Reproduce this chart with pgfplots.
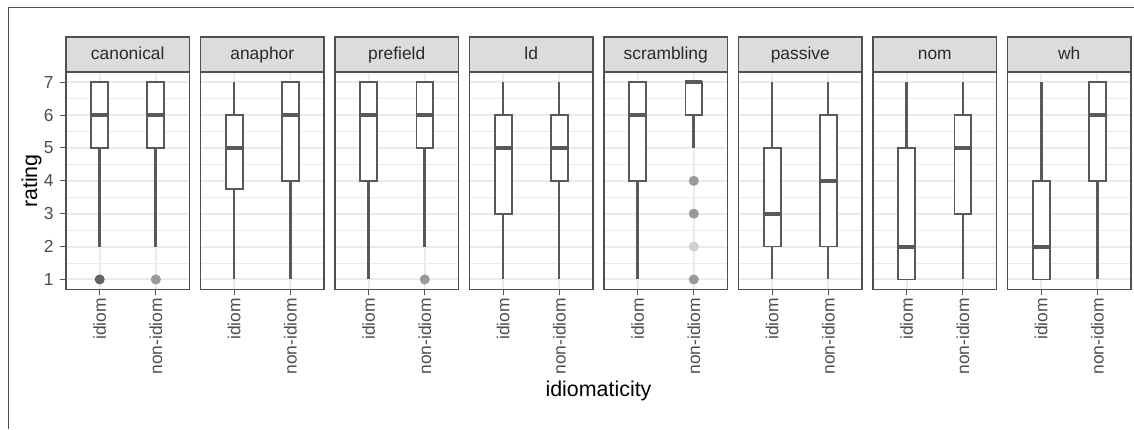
\documentclass[border=0pt]{standalone}
\usepackage{pgfplots}
\pgfplotsset{compat=1.18}
\usepackage{fontspec}
\setmainfont{Liberation Sans}
\definecolor{bl}{HTML}{595959}
\definecolor{gridc}{HTML}{EBEBEB}
\definecolor{grey20}{HTML}{505050}
\definecolor{stripc}{HTML}{DCDCDE}
\definecolor{tickc}{HTML}{4D4D4D}
\definecolor{stript}{HTML}{2A2A2A}
\definecolor{outD}{HTML}{636363}
\definecolor{outM}{HTML}{9A9A9A}
\definecolor{outL}{HTML}{D0D0D0}
\newcommand{\tfont}{\fontsize{8.7}{10}\selectfont}
\newcommand{\bx}[9]{%
 \addplot[bl, line width=#9] coordinates {(#1,#4) (#1,#5)};
 \addplot[bl, line width=#9] coordinates {(#1,#7) (#1,#8)};
 \addplot[bl, fill=white, line width=0.9pt] coordinates {(#2,#5) (#3,#5) (#3,#7) (#2,#7)} -- cycle;
 \addplot[bl, line width=2pt] coordinates {(#2,#6) (#3,#6)};
}
\newcommand{\bxI}[6]{\bx{1}{0.85}{1.15}{#1}{#2}{#3}{#4}{#5}{#6}}
\newcommand{\bxN}[6]{\bx{2}{1.85}{2.15}{#1}{#2}{#3}{#4}{#5}{#6}}
\newcommand{\outl}[2]{\addplot[only marks, mark=*, mark size=2.3pt, color=#1] coordinates {#2};}
\pgfplotsset{panel/.style={
 anchor=south west, width=61.75pt, height=108.5pt, scale only axis,
 xmin=0.4, xmax=2.6, ymin=0.7, ymax=7.3,
 xtick={1,2}, xticklabels={idiom,non-idiom},
 ytick={1,2,3,4,5,6,7}, minor ytick={1.5,2.5,3.5,4.5,5.5,6.5},
 grid=both,
 major grid style={color=gridc, line width=1pt},
 minor grid style={color=gridc, line width=0.5pt},
 axis line style={draw=grey20, line width=0.65pt},
 tick align=outside, major tick length=2.75pt, minor tick length=0pt,
 xtick pos=bottom, ytick pos=left,
 tick style={draw=grey20, line width=0.5pt},
 xticklabel style={rotate=90, anchor=east, font=\tfont, text=tickc, inner sep=1.5pt},
 yticklabel style={font=\tfont, text=tickc},
 /pgf/number format/assume math mode=true,
 every axis title/.style={at={(0.5,1)}, anchor=south, fill=stripc, draw=grey20,
   line width=0.65pt, minimum width=61.75pt, minimum height=17.3pt, inner sep=0pt,
   text=stript, font=\tfont, text height=0.75em, text depth=0.2em},
}, noy/.style={yticklabels={}, ytick style={draw=none}}}
\begin{document}
\begin{tikzpicture}
\useasboundingbox (0,0) rectangle (567pt,-214.5pt);
\draw[grey20, line width=0.5pt] (4pt,-214.5pt) -- (4pt,-3.5pt) -- (567pt,-3.5pt);
% canonical
\begin{axis}[panel, at={(33pt,-144.65pt)}, title={canonical}]
\bxI{2}{5}{6}{7}{7}{1.5pt}
\bxN{2}{5}{6}{7}{7}{1.5pt}
\outl{outD}{(1,1)}
\outl{outM}{(2,1)}
\end{axis}
% anaphor
\begin{axis}[panel, noy, at={(100.25pt,-144.65pt)}, title={anaphor}]
\bxI{1}{3.75}{5}{6}{7}{1pt}
\bxN{1}{4}{6}{7}{7}{1.5pt}
\end{axis}
% prefield
\begin{axis}[panel, noy, at={(167.5pt,-144.65pt)}, title={prefield}]
\bxI{1}{4}{6}{7}{7}{1.5pt}
\bxN{2}{5}{6}{7}{7}{1.5pt}
\outl{outM}{(2,1)}
\end{axis}
% ld
\begin{axis}[panel, noy, at={(234.75pt,-144.65pt)}, title={ld}]
\bxI{1}{3}{5}{6}{7}{0.95pt}
\bxN{1}{4}{5}{6}{7}{0.95pt}
\end{axis}
% scrambling
\begin{axis}[panel, noy, at={(302pt,-144.65pt)}, title={scrambling}]
\bxI{1}{4}{6}{7}{7}{1.5pt}
\bxN{5}{6}{7}{7}{7}{1.5pt}
\outl{outM}{(2,4) (2,3) (2,1)}
\outl{outL}{(2,2)}
\end{axis}
% passive
\begin{axis}[panel, noy, at={(369.25pt,-144.65pt)}, title={passive}]
\bxI{1}{2}{3}{5}{7}{1.15pt}
\bxN{1}{2}{4}{6}{7}{0.85pt}
\end{axis}
% nom
\begin{axis}[panel, noy, at={(436.5pt,-144.65pt)}, title={nom}]
\bxI{1}{1}{2}{5}{7}{1.5pt}
\bxN{1}{3}{5}{6}{7}{0.85pt}
\end{axis}
% wh
\begin{axis}[panel, noy, at={(503.75pt,-144.65pt)}, title={wh}]
\bxI{1}{1}{2}{4}{7}{1.5pt}
\bxN{1}{4}{6}{7}{7}{1.5pt}
\end{axis}
\node[rotate=90, font=\fontsize{10.7}{12}\selectfont] at (15.85pt,-90.5pt) {rating};
\node[font=\fontsize{10.7}{12}\selectfont] at (299.25pt,-195.5pt) {idiomaticity};
\end{tikzpicture}
\end{document}
